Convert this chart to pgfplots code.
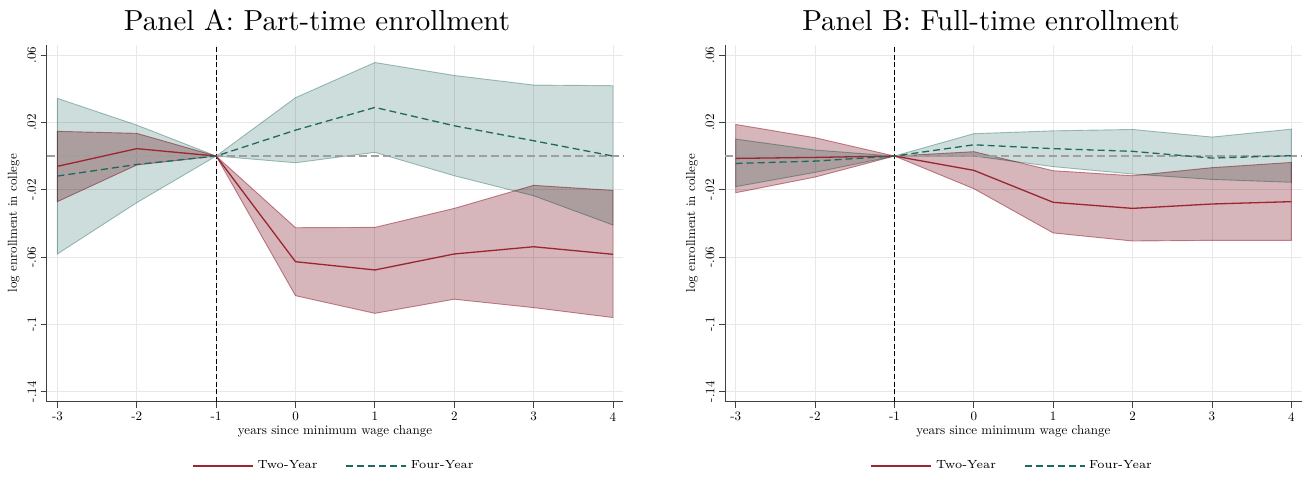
\documentclass[border=0pt]{standalone}
\usepackage{pgfplots}
\pgfplotsset{compat=1.18}
\definecolor{tealfill}{RGB}{205,221,219}
\definecolor{redfill}{RGB}{214,182,186}
\definecolor{tealedge}{RGB}{165,198,193}
\definecolor{rededge}{RGB}{208,140,150}
\definecolor{redline}{RGB}{155,38,48}
\definecolor{tealline}{RGB}{30,105,95}
\pgfplotsset{
  panel/.style={
    scale only axis, width=288.3pt, height=178.35pt,
    xmin=-3.135, xmax=4.13, ymin=-0.146, ymax=0.066,
    axis x line*=bottom, axis y line*=left, axis line style={-, black!75, line width=0.5pt},
    tick align=outside, major tick length=3pt,
    tick style={black!75, line width=0.4pt},
    grid=major, grid style={gray!18, line width=0.4pt},
    xtick={-3,-2,-1,0,1,2,3,4}, xticklabels={-3,-2,-1,0,1,2,3,4},
    ytick={-0.14,-0.1,-0.06,-0.02,0.02,0.06},
    yticklabels={-.14,-.1,-.06,-.02,.02,.06},
    ticklabel style={font=\fontsize{10}{12}\selectfont, scale=0.65},
    yticklabel style={rotate=90, anchor=south},
    xlabel={years since minimum wage change},
    ylabel={log enrollment in college},
    label style={font=\fontsize{10}{12}\selectfont, scale=0.65},
    xlabel style={at={(axis description cs:0.5,-0.082)}, anchor=center},
    ylabel style={at={(axis description cs:-0.0572,0.5)}, anchor=center},
    legend style={at={(0.5,-0.18)}, anchor=center, draw=none, fill=none,
      legend columns=2, font=\fontsize{5.9}{7}\selectfont,
      /tikz/every even column/.append style={column sep=12pt}},
    legend cell align=left,
    legend image code/.code={\draw[#1] (0pt,0pt) -- (30pt,0pt);},
    clip=false,
  },
  band/.style={line width=0.45pt, blend mode=multiply, forget plot},
  zeroline/.style={forget plot, draw=gray!75, line width=0.6pt, dash pattern=on 4pt off 2pt},
  vline/.style={forget plot, draw=black, line width=0.6pt, dash pattern=on 2.5pt off 1.3pt},
  twoyr/.style={redline, line width=0.65pt},
  fouryr/.style={tealline, line width=0.65pt, dash pattern=on 3.5pt off 2pt},
}
\begin{document}
\begin{tikzpicture}
\useasboundingbox (0,0) rectangle (652.5pt,238.5pt);
% ---------- Panel A ----------
\begin{axis}[panel, at={(23.35pt,37.65pt)}, anchor=south west]
\addplot[band, draw=tealedge, fill=tealfill] coordinates {
 (-3,0.0343) (-2,0.0184) (-1,0) (0,0.0347) (1,0.0556) (2,0.0479) (3,0.0422) (4,0.0418)
 (4,-0.041) (3,-0.0236) (2,-0.0117) (1,0.0022) (0,-0.004) (-1,0) (-2,-0.0277) (-3,-0.0582)} -- cycle;
\addplot[band, draw=rededge, fill=redfill] coordinates {
 (-3,0.0147) (-2,0.0135) (-1,0) (0,-0.0426) (1,-0.0424) (2,-0.0311) (3,-0.0174) (4,-0.0204)
 (4,-0.096) (3,-0.0901) (2,-0.0851) (1,-0.0935) (0,-0.083) (-1,0) (-2,-0.0053) (-3,-0.0271)} -- cycle;
\addplot[zeroline] coordinates {(-3.135,0) (4.13,0)};
\addplot[vline] coordinates {(-1,-0.146) (-1,0.066)};
\addplot[twoyr] coordinates {(-3,-0.0061) (-2,0.0044) (-1,0) (0,-0.0628) (1,-0.0677) (2,-0.0582) (3,-0.0539) (4,-0.0584)};
\addlegendentry{Two-Year}
\addplot[fouryr] coordinates {(-3,-0.0119) (-2,-0.005) (-1,0) (0,0.0154) (1,0.0289) (2,0.018) (3,0.0091) (4,0.0)};
\addlegendentry{Four-Year}
\end{axis}
% ---------- Panel B ----------
\begin{axis}[panel, at={(362.5pt,37.65pt)}, anchor=south west]
\addplot[band, draw=tealedge, fill=tealfill] coordinates {
 (-3,0.0101) (-2,0.0036) (-1,0) (0,0.0133) (1,0.015) (2,0.0158) (3,0.0113) (4,0.016)
 (4,-0.0156) (3,-0.0139) (2,-0.0107) (1,-0.0063) (0,0.0) (-1,0) (-2,-0.0097) (-3,-0.0182)} -- cycle;
\addplot[band, draw=rededge, fill=redfill] coordinates {
 (-3,0.0188) (-2,0.0109) (-1,0) (0,0.0026) (1,-0.0087) (2,-0.0117) (3,-0.0069) (4,-0.0038)
 (4,-0.0501) (3,-0.0501) (2,-0.0505) (1,-0.0457) (0,-0.0194) (-1,0) (-2,-0.0125) (-3,-0.0218)} -- cycle;
\addplot[zeroline] coordinates {(-3.135,0) (4.13,0)};
\addplot[vline] coordinates {(-1,-0.146) (-1,0.066)};
\addplot[twoyr] coordinates {(-3,-0.0014) (-2,-0.0008) (-1,0) (0,-0.0085) (1,-0.0275) (2,-0.0311) (3,-0.0285) (4,-0.0271)};
\addlegendentry{Two-Year}
\addplot[fouryr] coordinates {(-3,-0.0044) (-2,-0.003) (-1,0) (0,0.0067) (1,0.0044) (2,0.0028) (3,-0.0012) (4,0.0002)};
\addlegendentry{Four-Year}
\end{axis}
% ---------- Titles ----------
\node[anchor=base, font=\fontsize{10}{12}\selectfont, scale=1.45, inner sep=0pt] at (158.5pt,223pt) {Panel A: Part-time enrollment};
\node[anchor=base, font=\fontsize{10}{12}\selectfont, scale=1.45, inner sep=0pt] at (495.5pt,223pt) {Panel B: Full-time enrollment};
\end{tikzpicture}
\end{document}
